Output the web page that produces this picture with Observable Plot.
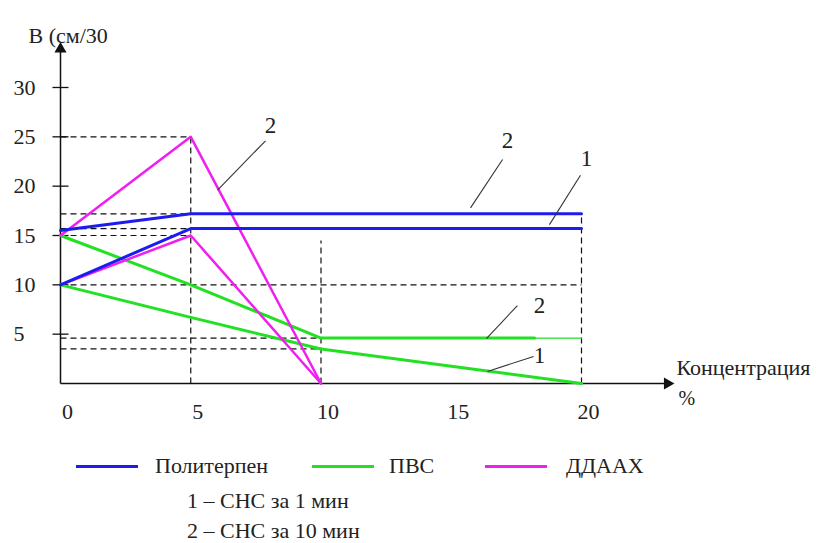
<!DOCTYPE html>
<html>
<head>
<meta charset="utf-8">
<script src="https://cdn.jsdelivr.net/npm/d3@7"></script>
<script src="https://cdn.jsdelivr.net/npm/@observablehq/plot@0.6"></script>
<style>
  html, body { margin: 0; padding: 0; background: #fff; }
  #wrap { width: 826px; font-family: "Liberation Serif", "Tinos", "Times New Roman", "DejaVu Serif", serif; color: #222; }
  #legend { position: relative; height: 103px; font-size: 22px; }
  #legend .sw { position: absolute; height: 3px; }
  #legend .tx { position: absolute; line-height: 22px; white-space: nowrap; }
  #chart svg text { font-family: "Liberation Serif", "Tinos", "Times New Roman", "DejaVu Serif", serif; }
</style>
</head>
<body>
<div id="wrap">
  <div id="chart"></div>
  <div id="legend"></div>
</div>
<script>
// ---- data ----
const seriesNames = ["Политерпен", "ПВС", "ДДААХ"];
const seriesColors = ["#1c1cf0", "#22e022", "#f01ef0"];
const curveNotes = ["1 – СНС за 1 мин", "2 – СНС за 10 мин"];

const xTicks = [0, 5, 10, 15, 20];
const yTicks = [5, 10, 15, 20, 25, 30];

// Политерпен
const xPolyterpene = [0, 5, 20];
const polyterpene1 = [10, 15.7, 15.7];
const polyterpene10 = [15.5, 17.2, 17.2];
// ПВС
const xPVS1 = [0, 5, 10, 20];
const pvs1 = [10, 6.7, 3.5, 0];
const xPVS10 = [0, 5, 10, 18.2];
const pvs10 = [15, 10, 4.6, 4.6];
const xPVS10tail = [18.2, 20];
const pvs10tail = [4.6, 4.6];
// ДДААХ
const xDDAAH = [0, 5, 10];
const ddaah1 = [10, 15, 0];
const ddaah10 = [15, 25, 0];

// dashed reference lines [x1, y1, x2, y2]
const guides = [
  [0, 25, 5, 25], [5, 0, 5, 25],
  [0, 17.2, 5, 17.2], [0, 15.7, 5, 15.7], [0, 15, 5, 15],
  [0, 10, 20, 10], [10, 0, 10, 14.5], [20, 0, 20, 17.2],
  [0, 4.6, 10, 4.6], [0, 3.5, 10, 3.5]
];

// curve labels: text, label x, label y, leader x1, y1, x2, y2
const noteLabels = ["2", "2", "1", "2", "1"];
const noteX = [8.06, 17.16, 20.19, 18.39, 18.39];
const noteY = [26.1, 24.6, 22.8, 7.9, 2.84];
const leaders = [
  [7.87, 24.6, 6.03, 19.6],
  [16.97, 22.7, 15.74, 17.8],
  [19.96, 21.1, 18.77, 16.1],
  [17.54, 7.9, 16.35, 4.56],
  [18.16, 2.74, 16.39, 1.22]
];
const xAxisEnd = 23.3;
const yAxisEnd = 33.9;

// ---- build tables ----
function pts(xs, ys) { return xs.map((x, i) => ({x, y: ys[i]})); }
const blue = seriesColors[0], green = seriesColors[1], pink = seriesColors[2];
const lines = [
  {d: pts(xPVS1, pvs1), c: green, w: 3},
  {d: pts(xPVS10, pvs10), c: green, w: 3},
  {d: pts(xPVS10tail, pvs10tail), c: green, w: 1.2},
  {d: pts(xDDAAH, ddaah1), c: pink, w: 2.5},
  {d: pts(xDDAAH, ddaah10), c: pink, w: 2.5},
  {d: pts(xPolyterpene, polyterpene1), c: blue, w: 3},
  {d: pts(xPolyterpene, polyterpene10), c: blue, w: 3}
];
const notes = noteLabels.map((t, i) => ({t, x: noteX[i], y: noteY[i]}));

const font = "'Liberation Serif', Tinos, 'Times New Roman', 'DejaVu Serif', serif";
const hTick = {draw(ctx) { ctx.moveTo(-8, 0); ctx.lineTo(8, 0); }};

const chart = Plot.plot({
  width: 826,
  height: 440,
  marginLeft: 60,
  marginRight: 245,
  marginTop: 87,
  marginBottom: 57,
  style: {fontFamily: font, background: "white", overflow: "visible"},
  x: {domain: [0, 20], axis: null},
  y: {domain: [0, 30], axis: null},
  marks: [
    Plot.link(guides, {x1: d => d[0], y1: d => d[1], x2: d => d[2], y2: d => d[3],
      stroke: "#111", strokeWidth: 1.2, strokeDasharray: "6,4"}),
    // axes
    Plot.link([[0, 0, xAxisEnd, 0], [0, 0, 0, yAxisEnd]], {x1: d => d[0], y1: d => d[1], x2: d => d[2], y2: d => d[3],
      stroke: "#111", strokeWidth: 1.5}),
    Plot.dot([0], {x: 0, y: yAxisEnd, symbol: "triangle", r: 4.5, fill: "#111"}),
    Plot.dot([0], {x: xAxisEnd, y: 0, symbol: "triangle", r: 4.5, fill: "#111", rotate: 90}),
    Plot.dot(yTicks, {x: 0, y: d => d, symbol: hTick, stroke: "#111", strokeWidth: 1.3, fill: "none"}),
    Plot.text(yTicks, {y: d => d, frameAnchor: "left", textAnchor: "start", dx: -47,
      text: d => String(d), fontSize: 22, fill: "#222"}),
    Plot.text(xTicks, {x: d => d, frameAnchor: "bottom", dy: 35, dx: 7,
      text: d => String(d), fontSize: 22, fill: "#222"}),
    // series
    ...lines.map(l => Plot.line(l.d, {x: "x", y: "y", stroke: l.c, strokeWidth: l.w})),
    // leaders and labels
    Plot.link(leaders, {x1: d => d[0], y1: d => d[1], x2: d => d[2], y2: d => d[3],
      stroke: "#333", strokeWidth: 1.1}),
    Plot.text(notes, {x: "x", y: "y", text: "t", fontSize: 23, fill: "#222"}),
    // axis titles
    Plot.text(["В (см/30"], {frameAnchor: "top-left", textAnchor: "start", dx: -32, dy: -60,
      fontSize: 22, fill: "#222"}),
    Plot.text(["Концентрация"], {x: xAxisEnd, y: 0, textAnchor: "start", dx: 9, dy: -16,
      fontSize: 22, fill: "#222"}),
    Plot.text(["%"], {x: xAxisEnd, y: 0, textAnchor: "start", dx: 11, dy: 15,
      fontSize: 20, fill: "#222"})
  ]
});
document.getElementById("chart").appendChild(chart);

// ---- legend ----
const legend = document.getElementById("legend");
const swX = [76, 312, 485], txX = [155, 389, 566];
seriesNames.forEach((n, i) => {
  const s = document.createElement("div");
  s.className = "sw";
  s.style.left = swX[i] + "px"; s.style.width = "62px"; s.style.top = "24.5px";
  s.style.background = seriesColors[i];
  legend.appendChild(s);
  const t = document.createElement("div");
  t.className = "tx";
  t.style.left = txX[i] + "px"; t.style.top = "14.5px";
  t.textContent = n;
  legend.appendChild(t);
});
curveNotes.forEach((n, i) => {
  const t = document.createElement("div");
  t.className = "tx";
  t.style.left = "187px"; t.style.top = (49.5 + i * 30) + "px";
  t.textContent = n;
  legend.appendChild(t);
});
</script>
</body>
</html>
